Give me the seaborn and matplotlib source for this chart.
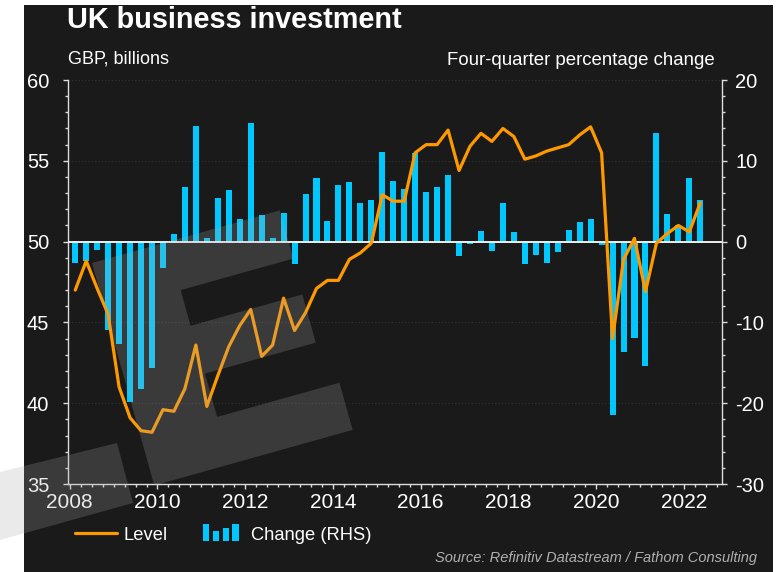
import numpy as np
import pandas as pd
import matplotlib
matplotlib.use("Agg")
import matplotlib.pyplot as plt
import seaborn as sns
from matplotlib.patches import Polygon, Rectangle
from matplotlib.lines import Line2D
from matplotlib.legend_handler import HandlerBase
from matplotlib.ticker import MultipleLocator, FormatStrFormatter

# ---------- Data ----------
quarters = [f"{y}Q{q}" for y in range(2008, 2023) for q in range(1, 5)][:58]

level = [47.0, 48.8, 47.1, 45.5,
         41.0, 39.1, 38.3, 38.2,
         39.6, 39.5, 40.9, 43.6,
         39.8, 41.7, 43.5, 44.8,
         45.8, 42.9, 43.6, 46.5,
         44.5, 45.6, 47.1, 47.6,
         47.6, 48.9, 49.3, 49.9,
         52.9, 52.5, 52.5, 55.5,
         56.0, 56.0, 56.9, 54.4,
         55.9, 56.7, 56.2, 57.0,
         56.5, 55.1, 55.3, 55.6,
         55.8, 56.0, 56.6, 57.1,
         55.5, 44.0, 48.9, 50.2,
         46.9, 49.9, 50.5, 51.0,
         50.6, 52.4]

change = [-2.7, -2.4, -1.0, -11.0,
          -12.7, -19.8, -18.3, -15.7,
          -3.3, 1.0, 6.7, 14.3,
          0.5, 5.4, 6.4, 2.8,
          14.7, 3.3, 0.5, 3.6,
          -2.8, 5.9, 7.9, 2.5,
          7.0, 7.4, 4.8, 5.1,
          11.1, 7.5, 6.5, 11.0,
          6.1, 6.7, 8.3, -1.8,
          -0.3, 1.3, -1.2, 4.8,
          1.2, -2.8, -1.7, -2.6,
          -1.3, 1.4, 2.4, 2.8,
          -0.4, -21.4, -13.7, -11.9,
          -15.4, 13.5, 3.4, 2.1,
          7.9, 5.1]

year_ticks = list(range(2008, 2023, 2))

BG = "#1a1a1a"
BLUE = "#00c8ff"
ORANGE = "#ff9900"
AXCOL = "#dcdcdc"

df = pd.DataFrame({"quarter": quarters, "level": level, "change": change})
per = pd.PeriodIndex(df["quarter"], freq="Q")
df["t"] = per.year + (per.quarter - 1) / 4 + 0.125

# ---------- Figure ----------
sns.set_style("dark")
plt.rcParams["font.family"] = ["Liberation Sans", "DejaVu Sans"]
plt.rcParams["axes.unicode_minus"] = False

W, H = 782, 572
fig = plt.figure(figsize=(W / 100, H / 100), dpi=100, facecolor="white")


def fx(x):
    return x / W


def fy(y):
    return 1 - y / H


# dark panel
fig.patches.append(Rectangle((fx(24), 0), fx(773) - fx(24), fy(5), transform=fig.transFigure,
                             facecolor=BG, edgecolor="none", zorder=-1))

ax = fig.add_axes([fx(68), fy(484), fx(722) - fx(68), fy(80) - fy(484)])
ax.set_facecolor("none")

# bars on right-hand scale
sns.barplot(data=df, x="t", y="change", native_scale=True, width=0.55, color=BLUE,
            saturation=1, errorbar=None, ax=ax, zorder=2, linewidth=0, edgecolor="none")
ax.axhline(0, color="white", lw=1.3, zorder=3)
ax.set_ylim(-30, 20)
ax.yaxis.set_major_locator(MultipleLocator(10))
ax.yaxis.set_minor_locator(MultipleLocator(2))
ax.set_xlim(2007.96, 2022.87)
ax.set_xticks(year_ticks)
ax.xaxis.set_major_formatter(FormatStrFormatter("%d"))
ax.xaxis.set_minor_locator(MultipleLocator(0.25))
ax.set_xlabel("")
ax.set_ylabel("")
ax.set_axisbelow(True)
ax.grid(axis="y", which="major", color="#2f3634", ls=(0, (1, 2)), lw=0.8)
ax.grid(axis="x", visible=False)

# line on left-hand scale
ax2 = ax.twinx()
sns.lineplot(data=df, x="t", y="level", color=ORANGE, lw=2.3, ax=ax2, legend=False)
ax2.set_ylim(35, 60)
ax2.yaxis.set_major_locator(MultipleLocator(5))
ax2.yaxis.set_minor_locator(MultipleLocator(1))
ax2.set_ylabel("")
ax2.set_xlabel("")
ax2.grid(False)
for s in ax2.spines.values():
    s.set_visible(False)

# twinx puts the first axis' ticks on the left: swap them
ax.yaxis.tick_right()
ax2.yaxis.tick_left()

for side in ["left", "right", "bottom"]:
    ax.spines[side].set_visible(True)
    ax.spines[side].set_color(AXCOL)
    ax.spines[side].set_linewidth(1.0)
ax.spines["top"].set_visible(False)

ax.tick_params(axis="x", which="major", direction="out", length=3.5, width=1, color=AXCOL,
               labelcolor="white", labelsize=15, pad=3, bottom=True)
ax.tick_params(axis="x", which="minor", direction="out", length=1.8, width=1, color=AXCOL, bottom=True)
ax.tick_params(axis="y", which="major", direction="out", length=3.5, width=1, color=AXCOL,
               labelcolor="white", labelsize=14.5, pad=6, right=True, left=False,
               labelright=True, labelleft=False)
ax.tick_params(axis="y", which="minor", direction="out", length=2, width=1, color=AXCOL,
               right=True, left=False)
ax2.tick_params(axis="y", which="major", direction="out", length=3.5, width=1, color=AXCOL,
                labelcolor="white", labelsize=14.5, pad=10, left=True, right=False,
                labelleft=True, labelright=False)
ax2.tick_params(axis="y", which="minor", direction="out", length=2, width=1, color=AXCOL,
                left=True, right=False)


# ---------- Legend ----------
class BarsHandler(HandlerBase):
    def create_artists(self, legend, orig_handle, xdescent, ydescent, width, height, fontsize, trans):
        rel = [1.0, 0.6, 0.8, 1.0]
        bw = width * 0.15
        gap = (width * 0.86 - 4 * bw) / 3
        out = []
        for i, r in enumerate(rel):
            out.append(Rectangle((-xdescent + i * (bw + gap), -ydescent - 0.15 * height), bw, r * height * 1.35,
                                 facecolor=BLUE, edgecolor="none", transform=trans))
        return out


level_handle = Line2D([], [], color=ORANGE, lw=2.3)
bar_handle = Rectangle((0, 0), 1, 1, color=BLUE)
ax2.legend([level_handle, bar_handle], ["Level", "Change (RHS)"],
           handler_map={bar_handle: BarsHandler()},
           loc="center left", bbox_to_anchor=(fx(75), fy(535)), bbox_transform=fig.transFigure,
           frameon=False, ncol=2, fontsize=13.2, labelcolor="white", handlelength=2.3,
           handletextpad=0.35, columnspacing=1.9, borderpad=0, borderaxespad=0)

# ---------- Text ----------
fig.text(fx(67), fy(28), "UK business investment", fontsize=20.8, weight="bold", color="white", va="baseline")
fig.text(fx(68), fy(63), "GBP, billions", fontsize=13, color="white", va="baseline")
fig.text(fx(715), fy(65), "Four-quarter percentage change", fontsize=13.4, color="white", va="baseline", ha="right")
fig.text(fx(757), fy(558), "Source: Refinitiv Datastream / Fathom Consulting", fontsize=10.5, style="italic",
         color="#b0b0b0", va="center", ha="right")

# ---------- Watermark ----------
th = np.arctan(0.28)
u_dir = np.array([np.cos(th), -np.sin(th)])
v_dir = np.array([np.sin(th), np.cos(th)])
origin = np.array([92, 263])
e_shape = [(0, 0), (195, 0), (195, 50), (78, 50), (78, 87), (194, 87), (194, 137), (79, 137),
           (79, 182), (206, 182), (206, 231), (0, 231)]
pts = [origin + u * u_dir + v * v_dir for u, v in e_shape]
fig.patches.append(Polygon([(fx(p[0]), fy(p[1])) for p in pts], closed=True, transform=fig.transFigure,
                           facecolor="#a7a7a7", edgecolor="none", alpha=0.23, zorder=2))
band = [(0, 472), (117, 443), (133, 503), (0, 540)]
fig.patches.append(Polygon([(fx(x), fy(y)) for x, y in band], closed=True, transform=fig.transFigure,
                           facecolor="#a7a7a7", edgecolor="none", alpha=0.23, zorder=2))

fig.savefig("out.png", dpi=100, facecolor=fig.get_facecolor())
